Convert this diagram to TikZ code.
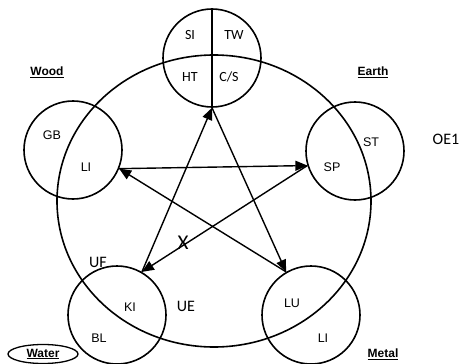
\documentclass[tikz,border=0pt]{standalone}
\usepackage{fontspec}
\setmainfont{Liberation Sans}
\newfontfamily\calib{Carlito}
\usetikzlibrary{arrows.meta,shapes.geometric}

\begin{document}
\begin{tikzpicture}[x=1pt,y=-1pt]
        \tikzset{elem/.style={circle, draw=black, fill=none, inner sep=0pt, minimum size=98pt, line width=1.6pt}}
        \tikzset{ctrl/.style={line width=1.4pt, -{Triangle[length=12pt,width=10pt]}}}
        \tikzset{txt/.style={inner sep=0pt, font=\fontsize{12.5}{14}\selectfont}}
        \tikzset{ctxt/.style={inner sep=0pt, font=\calib\fontsize{14}{16}\selectfont}}
        \tikzset{lbl/.style={inner sep=0pt, font=\bfseries\fontsize{12}{14}\selectfont}}
        \useasboundingbox (0,0) rectangle (464,364);

	%---NODES---
        \node[ellipse, draw=black, inner sep=0pt, minimum width=314pt, minimum height=292pt, line width=1.6pt] (big) at (214,201) {};
        \node[elem] (fire) at (212,58) {};
        \node[elem] (wood) at (73,150) {};
        \node[elem] (earth) at (355,151) {};
        \node[elem] (water) at (117,315) {};
        \node[elem] (metal) at (311,315) {};

        \draw[line width=1.6pt] (fire.north) -- (fire.south);

	%---EDGES---
        \draw[ctrl]   (water.60) -- (fire.south) ;
        \draw[ctrl]   (fire.south) -- (metal.120) ;
        \draw[ctrl]   (metal.120) -- (wood.-22) ;
        \draw[ctrl]   (wood.-22) -- (earth.197) ;
        \draw[ctrl]   (earth.197) -- (water.60) ;

	%---LABELS---
        \node[ctxt] (si) at (190,35) {SI};
        \node[ctxt] (tw) at (234,35) {TW};
        \node[ctxt] (ht) at (190,77) {HT};
        \node[ctxt] (cs) at (229,77) {C/S};

        \node[txt] (gb) at (52,135) {GB};
        \node[txt] (li1) at (86,167) {LI};
        \node[txt] (st) at (371,142) {ST};
        \node[txt] (sp) at (332,167) {SP};
        \node[txt] (ki) at (130,307) {KI};
        \node[txt] (bl) at (99,338) {BL};
        \node[txt] (lu) at (292,303) {LU};
        \node[txt] (li2) at (323,338) {LI};

        \node[ctxt, font=\calib\fontsize{16}{18}\selectfont] (oe) at (446,139) {OE1};
        \node[ctxt, font=\calib\fontsize{16}{18}\selectfont] (uf) at (98,262) {UF};
        \node[ctxt, font=\calib\fontsize{16}{18}\selectfont] (ue) at (186,306) {UE};
        \node[ctxt, font=\calib\fontsize{21}{24}\selectfont] (x) at (183,243) {X};

        \node[lbl] (woodlbl) at (47,72) {\underline{Wood}};
        \node[lbl] (earthlbl) at (373,72) {\underline{Earth}};
        \node[lbl] (metallbl) at (383,354) {\underline{Metal}};
        \node[lbl, ellipse, draw=black, line width=1.3pt, minimum width=70pt, minimum height=19pt] (waterlbl) at (43,354) {\underline{Water}};

    \end{tikzpicture}
\end{document}
